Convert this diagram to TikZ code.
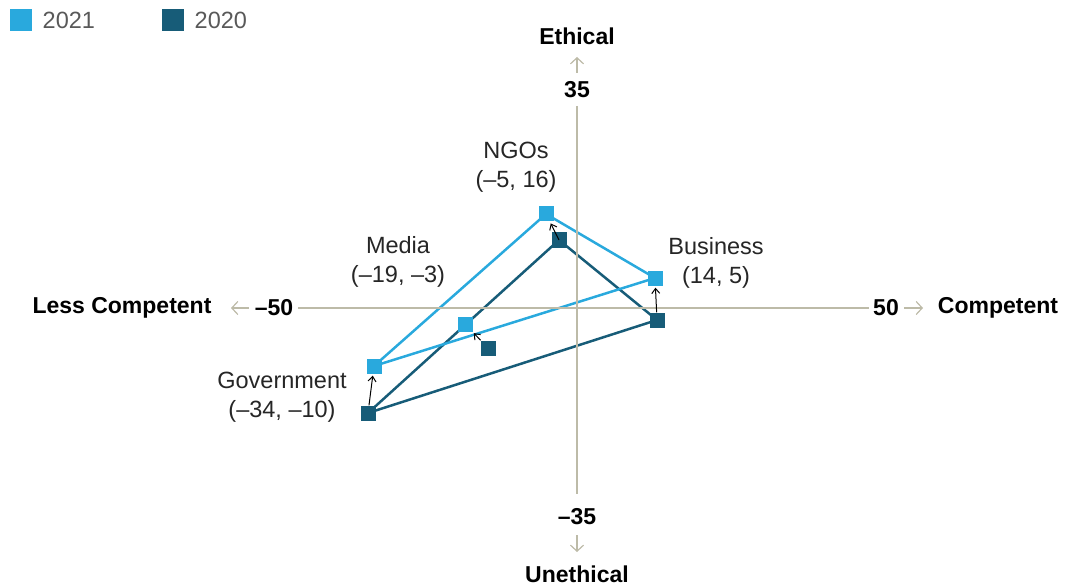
\documentclass[tikz,border=0pt]{standalone}
\usepackage{fontspec}
\setmainfont{Liberation Sans}
\usetikzlibrary{
  positioning,
  arrows.meta,
  backgrounds
}

\definecolor{new}{HTML}{29A9DD}
\definecolor{old}{HTML}{175C78}
\definecolor{axisgray}{HTML}{BDBBA8}

\tikzset{
  pt21/.style = {rectangle, fill=new, minimum size=15pt, inner sep=0pt},
  pt20/.style = {rectangle, fill=old, minimum size=15pt, inner sep=0pt},
  lbl/.style = {align=center, text=black!85, font=\fontsize{23.5}{29}\selectfont},
  leg/.style = {text=black!65, font=\fontsize{23.5}{26}\selectfont},
  axlbl/.style = {inner sep=0pt, font=\bfseries\fontsize{23}{26}\selectfont},
  axline/.style = {draw=axisgray, line width=1.5pt},
  axarrow/.style = {draw=axisgray, line width=1.2pt, -{Straight Barb[length=6pt, width=13pt]}},
  shiftarrow/.style = {line width=1pt, shorten >=2pt, -{Straight Barb[length=5pt, width=8pt]}}
}

\begin{document}
\begin{tikzpicture}[x=1pt, y=-1pt]
    \path[use as bounding box] (0,0) rectangle (1067,585);

    % legend
    \node[pt21, minimum size=22pt] (lg21) at (21,20) {};
    \node[leg, right = 7pt of lg21] {2021};
    \node[pt20, minimum size=22pt] (lg20) at (173,20) {};
    \node[leg, right = 7pt of lg20] {2020};

    % axes
    \node[axlbl] (xmin) at (274,308) {–50};
    \node[axlbl] (xmax) at (886,308) {50};
    \node[axlbl] (ymax) at (577,90) {35};
    \node[axlbl] (ymin) at (577,517) {–35};

    \coordinate (xl) at (298,308);
    \coordinate (xr) at (869,308);
    \coordinate (yt) at (577,106);
    \coordinate (yb) at (577,494);
    \draw[axline] (xl) -- (xr);
    \draw[axline] (yt) -- (yb);

    \coordinate (al0) at (249,308);  \coordinate (al1) at (231,308);
    \coordinate (ar0) at (904,308);  \coordinate (ar1) at (923,308);
    \coordinate (au0) at (577,73);   \coordinate (au1) at (577,57);
    \coordinate (ad0) at (577,535);  \coordinate (ad1) at (577,552);
    \draw[axarrow] (al0) -- (al1);
    \draw[axarrow] (ar0) -- (ar1);
    \draw[axarrow] (au0) -- (au1);
    \draw[axarrow] (ad0) -- (ad1);

    \node[axlbl] at (122,308) {Less Competent};
    \node[axlbl] at (998,308) {Competent};
    \node[axlbl] at (577,36) {Ethical};
    \node[axlbl] at (577,574) {Unethical};

    % points
    \node[pt20] (g20) at (368,413) {};
    \node[pt20] (m20) at (488,348) {};
    \node[pt20] (n20) at (559,240) {};
    \node[pt20] (b20) at (657,320) {};

    \node[pt21] (g21) at (374,366) {};
    \node[pt21] (m21) at (465,324) {};
    \node[pt21] (n21) at (546,214) {};
    \node[pt21] (b21) at (655,278) {};

    \begin{pgfonlayer}{background}
      \draw[old, line width=2.5pt, line join=round] (g20.center) -- (n20.center) -- (b20.center) -- cycle;
      \draw[new, line width=2.5pt, line join=round] (g21.center) -- (n21.center) -- (b21.center) -- cycle;
    \end{pgfonlayer}

    \draw[shiftarrow] (g20) -- (g21);
    \draw[shiftarrow] (m20) -- (m21);
    \draw[shiftarrow] (n20.center) -- (n21);
    \draw[shiftarrow] (b20) -- (b21);

    % labels
    \node[lbl] at (516,167) {NGOs\\(–5, 16)};
    \node[lbl] at (398,262) {Media\\(–19, –3)};
    \node[lbl] at (282,397) {Government\\(–34, –10)};
    \node[lbl] at (716,263) {Business\\(14, 5)};
\end{tikzpicture}
\end{document}
